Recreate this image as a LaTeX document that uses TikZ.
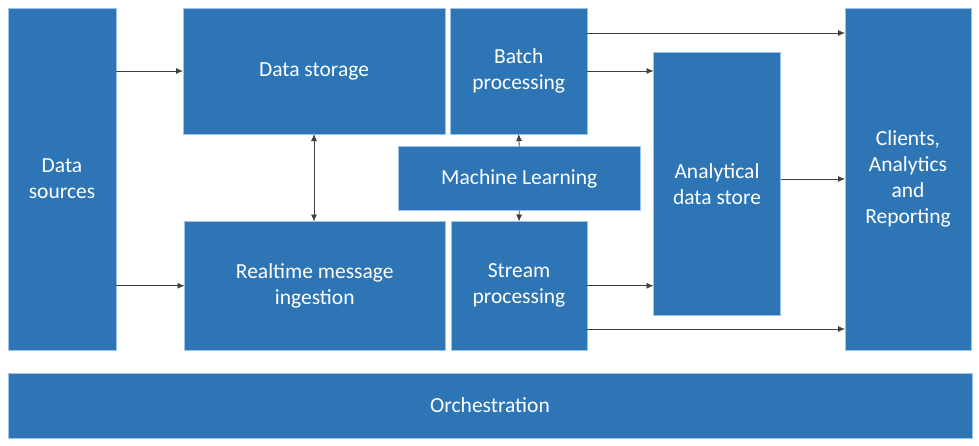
\documentclass[tikz,border=0pt]{standalone}
\usepackage{fontspec}
\setmainfont{Carlito}
\usetikzlibrary{positioning,shapes,arrows,arrows.meta}
\definecolor{boxblue}{HTML}{2E75B6}
\definecolor{rimblue}{HTML}{9DC3E6}
\definecolor{wire}{HTML}{404040}

\begin{document}
\begin{tikzpicture}[x=1pt,y=-1pt, >={Latex[length=7pt,width=6pt]},
  block/.style={draw=rimblue, line width=0.8pt, fill=boxblue, text=white, anchor=north west,
    inner sep=0pt, outer sep=0pt, align=center, font=\fontsize{21.5}{26}\selectfont},
  every edge/.style={draw=wire, line width=0.8pt}]
\useasboundingbox (0,0) rectangle (979,445);
\node[block, minimum width=108pt, minimum height=342pt] (dsrc) at (8,8) {Data\\sources};
\node[block, minimum width=262pt, minimum height=126pt] (dstore) at (183,8) {Data storage};
\node[block, minimum width=136.5pt, minimum height=126pt] (batch) at (450.5,8) {Batch\\processing};
\node[block, minimum width=241.5pt, minimum height=64pt] (ml) at (398.5,146.5) {Machine Learning};
\node[block, minimum width=260.5pt, minimum height=128.5pt] (rt) at (184.5,221.5) {Realtime message\\ingestion};
\node[block, minimum width=136pt, minimum height=128.5pt] (stream) at (451,221.5) {Stream\\processing};
\node[block, minimum width=127pt, minimum height=263pt] (ads) at (653.5,52.5) {Analytical\\data store};
\node[block, minimum width=126pt, minimum height=342pt] (cli) at (845,8) {Clients,\\Analytics\\and\\Reporting};
\node[block, minimum width=964pt, minimum height=65pt] (orch) at (8,373) {Orchestration};
\path (dsrc.east |- dstore.west) edge[->] (dstore.west)
(dsrc.east |- rt.west) edge[->] (rt.west)
(dstore.south) edge[<->] (dstore.south |- rt.north)
(ml.north) edge[->] (batch.south)
(ml.south) edge[->] (stream.north)
([yshift=-25pt]batch.north east) edge[->] ([yshift=-25pt]batch.north east -| cli.west)
(batch.east) edge[->] (batch.east -| ads.west)
(stream.east) edge[->] (stream.east -| ads.west)
([yshift=21pt]stream.south east) edge[->] ([yshift=21pt]stream.south east -| cli.west)
(ads.east |- cli.west) edge[->] (cli.west);
\end{tikzpicture}
\end{document}
